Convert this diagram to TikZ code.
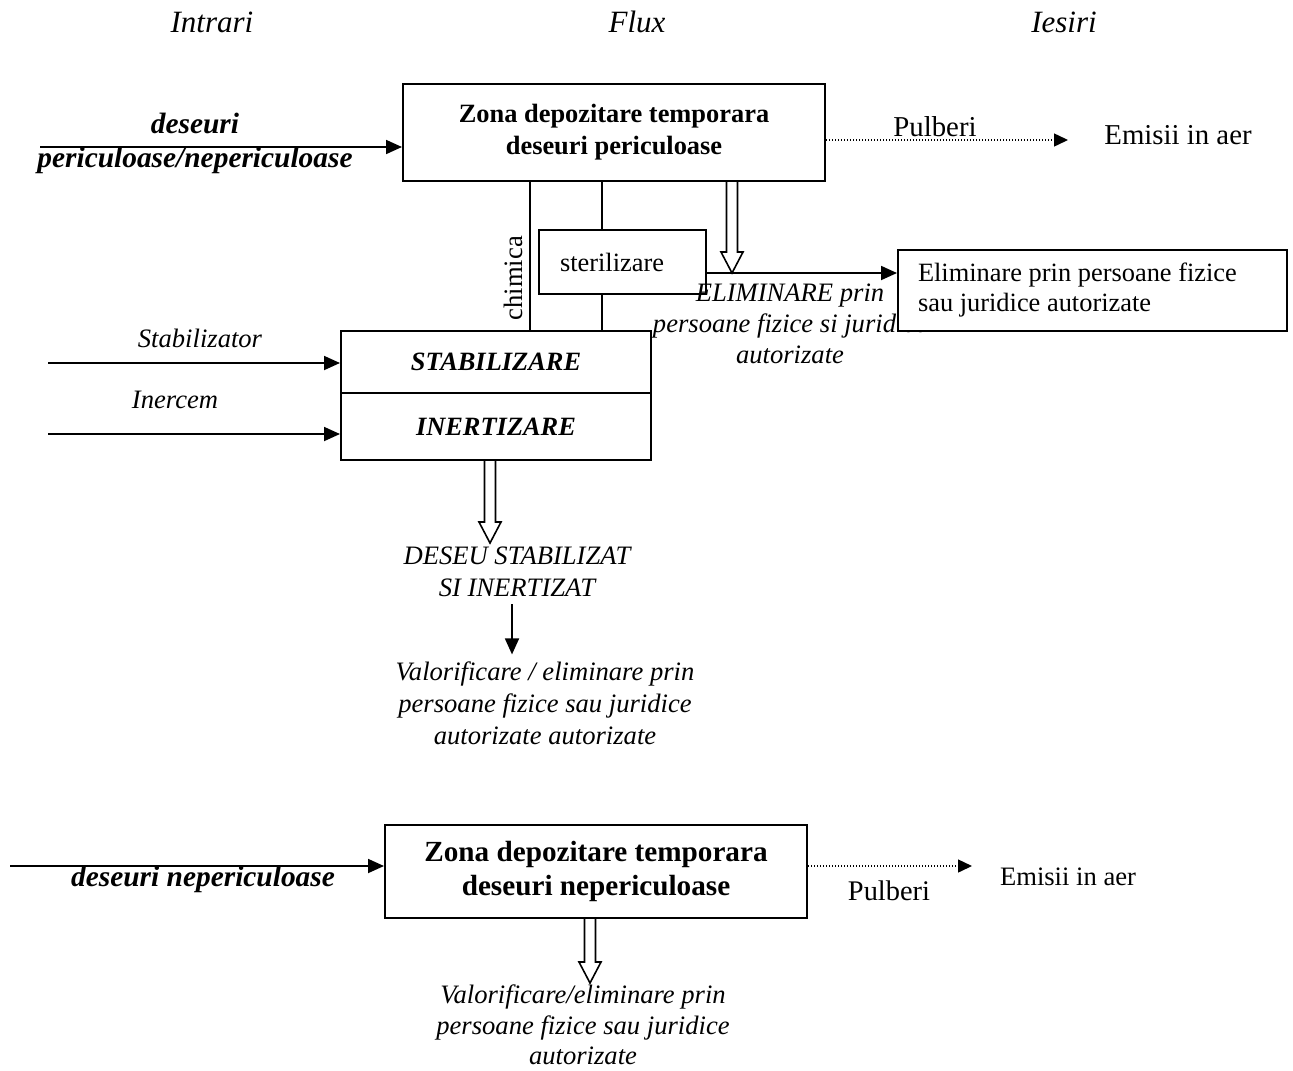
\documentclass[tikz,border=0pt]{standalone}
\usepackage{fontspec}
\setmainfont{Liberation Serif}
\usepackage{tikz}
\usetikzlibrary{arrows.meta, positioning, calc}

% hollow (outline) arrow pointing down from #1 to #2
\newcommand{\openarrow}[2]{%
  \draw[line width=0.8pt, fill=white] let \p1=(#1), \p2=(#2) in
    (\x1-2.75pt,\y1) -- (\x1-2.75pt,\y2+10.5pt) -- (\x1-5.5pt,\y2+10.5pt) -- (\x1,\y2)
    -- (\x1+5.5pt,\y2+10.5pt) -- (\x1+2.75pt,\y2+10.5pt) -- (\x1+2.75pt,\y1);}

\begin{document}
\begin{tikzpicture}[x=0.5pt, y=-0.5pt,
    box/.style={draw, line width=1pt, align=center, inner sep=0pt},
    arrow/.style={-{Triangle[length=8pt, width=7pt]}, line width=0.9pt},
    dotarrow/.style={-{Triangle[length=7pt, width=6.5pt]}, line width=0.7pt, dash pattern=on 0.6pt off 0.9pt},
    link/.style={line width=1pt},
    header/.style={font=\fontsize{15.5}{18}\selectfont\itshape},
    note/.style={font=\fontsize{13.3}{16}\selectfont\itshape, align=center},
    plain/.style={font=\fontsize{13.3}{16}\selectfont, align=center},
    input/.style={font=\fontsize{14.7}{17}\selectfont\bfseries\itshape, align=center}
]

\useasboundingbox (0,0) rectangle (1293,1070);

% Column headers
\node[header] (hin) at (212,22) {Intrari};
\node[header] (hflux) at (637,22) {Flux};
\node[header] (hout) at (1064,22) {Iesiri};

% Hazardous waste storage
\node[box, minimum width=211pt, minimum height=48.5pt, font=\fontsize{13.2}{16}\selectfont\bfseries] (store) at (614,132.5) {Zona depozitare temporara\\ deseuri periculoase};
\node[input] (inwaste) at (195,143) {deseuri\\ periculoase/nepericuloase};
\coordinate (instart) at (40,147);
\draw[arrow] (instart) -- (instart -| store.west);

% Dust emissions
\node[plain, font=\fontsize{14.4}{17}\selectfont] (dust) at (935,127) {Pulberi};
\node[plain, font=\fontsize{14.4}{17}\selectfont] (air) at (1178,135) {Emisii in aer};
\coordinate (dustend) at (1068,140);
\draw[dotarrow] (store.east |- dustend) -- (dustend);

% Sterilisation and stabilisation
\node[box, minimum width=83.5pt, minimum height=32pt, text width=62.5pt, inner xsep=10.5pt, align=flush left, font=\fontsize{13.2}{16}\selectfont] (steril) at (622.5,262) {sterilizare};
\node[box, minimum width=155pt, minimum height=31pt, font=\fontsize{13.2}{16}\selectfont\bfseries\itshape] (stab) at (496,362) {STABILIZARE};
\node[box, minimum width=155pt, minimum height=33.5pt, font=\fontsize{13.2}{16}\selectfont\bfseries\itshape] (inert) at (496,426.5) {INERTIZARE};

\coordinate (chem) at (530,0);
\coordinate (sterx) at (602,0);
\draw[link] (store.south -| chem) -- (stab.north -| chem) node[pos=0.65, above, rotate=90, plain] {chimica};
\draw[link] (store.south -| sterx) -- (steril.north -| sterx);
\draw[link] (steril.south -| sterx) -- (stab.north -| sterx);

% Disposal route
\node[note, font=\fontsize{13.3}{15.5}\selectfont\itshape] (elimtxt) at (790,324) {ELIMINARE prin\\ persoane fizice si juridice\\ autorizate};
\node[box, fill=white, minimum width=194.5pt, minimum height=40.5pt, text width=174.5pt, align=flush left, inner xsep=10pt, font=\fontsize{13.2}{15}\selectfont] (elim) at (1092.5,290.5) {Eliminare prin persoane fizice\\ sau juridice autorizate};
\coordinate (elimy) at (0,273);
\draw[arrow] (steril.east |- elimy) -- (elim.west |- elimy);
\coordinate (droptip) at (732,273);
\openarrow{store.south -| droptip}{droptip}

% Stabilisation inputs
\node[note] (stabin) at (200,338) {Stabilizator};
\coordinate (stabstart) at (48,363);
\draw[arrow] (stabstart) -- (stabstart -| stab.west);
\node[note] (inercem) at (175,400) {Inercem};
\coordinate (inertstart) at (48,434);
\draw[arrow] (inertstart) -- (inertstart -| inert.west);

% Stabilised output
\coordinate (stabtip) at (490,543);
\openarrow{inert.south -| stabtip}{stabtip}
\node[note] (stabout) at (517,572) {DESEU STABILIZAT\\ SI INERTIZAT};
\node[note] (valor) at (545,703) {Valorificare / eliminare prin\\ persoane fizice sau juridice\\ autorizate autorizate};
\coordinate (valx) at (512,0);
\draw[arrow] (stabout.south -| valx) -- (valor.north -| valx);

% Non-hazardous waste storage
\node[box, minimum width=211pt, minimum height=46.5pt, font=\fontsize{14.6}{17}\selectfont\bfseries] (storenp) at (596,871.5) {Zona depozitare temporara\\ deseuri nepericuloase};
\node[input] (inwastenp) at (203,879) {deseuri nepericuloase};
\coordinate (npstart) at (10,866);
\draw[arrow] (npstart) -- (npstart -| storenp.west);

\node[plain, font=\fontsize{14.2}{17}\selectfont] (dustnp) at (889,891) {Pulberi};
\node[plain] (airnp) at (1068,877) {Emisii in aer};
\coordinate (dustnpend) at (972,866);
\draw[dotarrow] (storenp.east |- dustnpend) -- (dustnpend);

\coordinate (nptip) at (590,983);
\openarrow{storenp.south -| nptip}{nptip}
\node[note, font=\fontsize{13.3}{15.3}\selectfont\itshape] (valornp) at (583,1025) {Valorificare/eliminare prin\\ persoane fizice sau juridice\\ autorizate};

\end{tikzpicture}
\end{document}
